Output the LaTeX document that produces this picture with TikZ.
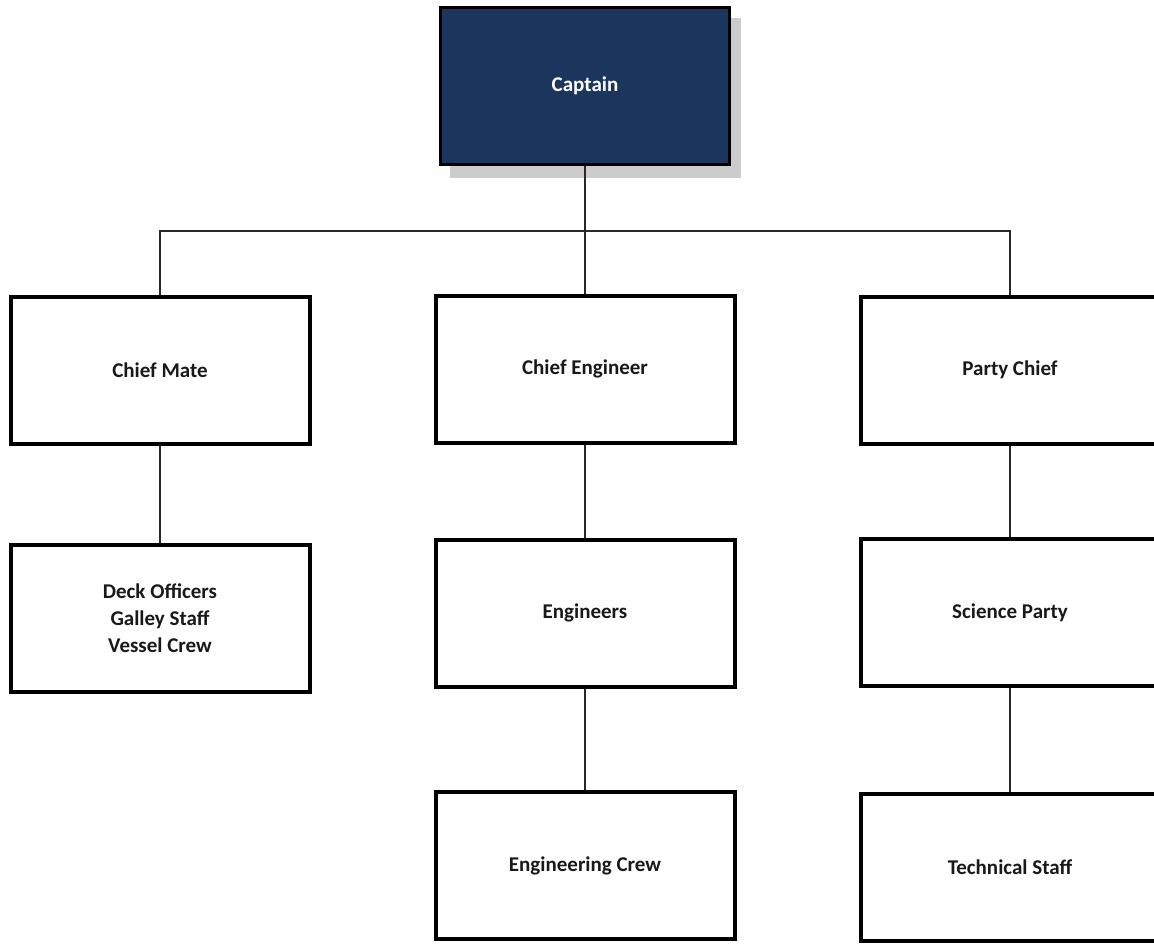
\documentclass[tikz,border=0pt]{standalone}
\usepackage{fontspec}
\setmainfont{Carlito}
\definecolor{navy}{RGB}{27,54,93}
\definecolor{shadowgray}{RGB}{204,204,204}
\definecolor{linegray}{RGB}{40,40,40}
\begin{document}
\begin{tikzpicture}[x=1pt,y=-1pt,
  box/.style={draw=black, line width=4pt, fill=white, rectangle, minimum width=299pt, minimum height=147pt, inner sep=0pt, align=center, font=\fontsize{21}{27}\selectfont\bfseries, text=black!90},
  capbox/.style={draw=black, line width=3pt, fill=navy, rectangle, minimum width=289pt, minimum height=157pt, inner sep=0pt, align=center, font=\fontsize{21}{27}\selectfont\bfseries, text=white},
  conn/.style={draw=linegray, line width=2pt}]
\useasboundingbox (0,0) rectangle (1154,943);
\clip (0,0) rectangle (1154,943);
% shadow of the Captain box
\fill[shadowgray] (450,18) rectangle (741,178);
\coordinate (bus) at (585,231);
\node[capbox] (cap) at (585,86) {Captain};
\node[box] (cm) at (160,370) {Chief Mate};
\node[box] (ce) at (585,369) {Chief Engineer};
\node[box] (pc) at (1010,370) {Party Chief};
\node[box] (crew) at (160,618.5) {Deck Officers\\Galley Staff\\Vessel Crew};
\node[box] (eng) at (585,613) {Engineers};
\node[box] (sci) at (1010,612.5) {Science Party};
\node[box] (ec) at (585,865.5) {Engineering Crew};
\node[box] (ts) at (1010,867.5) {Technical Staff};
\draw[conn] (cap.south) -- (bus);
\draw[conn] (cm.north) |- (bus) -| (pc.north);
\draw[conn] (bus) -- (ce.north);
\draw[conn] (cm.south) -- (crew.north);
\draw[conn] (ce.south) -- (eng.north);
\draw[conn] (eng.south) -- (ec.north);
\draw[conn] (pc.south) -- (sci.north);
\draw[conn] (sci.south) -- (ts.north);
\end{tikzpicture}
\end{document}
